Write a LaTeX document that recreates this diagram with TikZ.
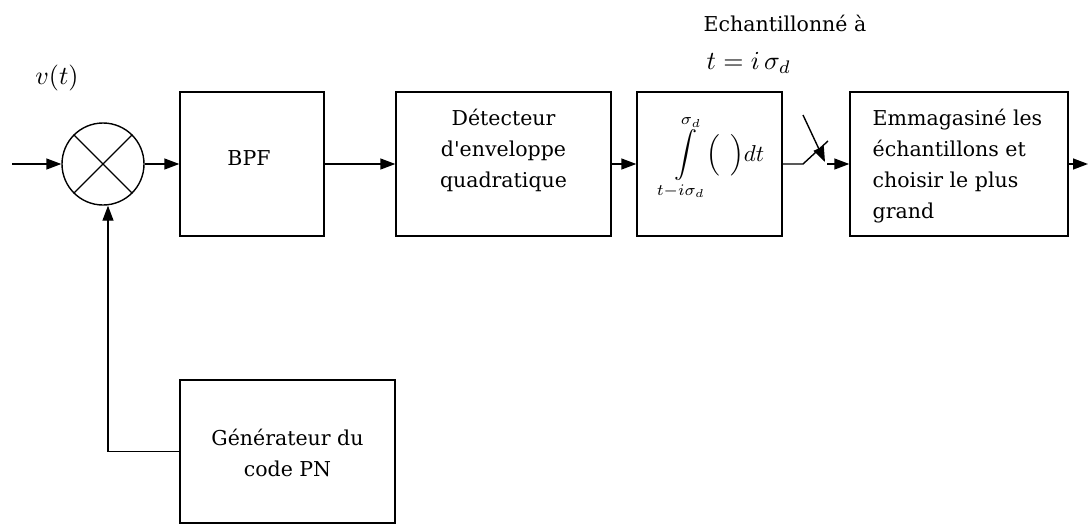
\documentclass[tikz,border=0pt]{standalone}
\usepackage{exscale}
\usepackage{amsmath}
\usepackage{graphicx}
\usepackage{fontspec}
\setmainfont{DejaVu Serif}[Ligatures=TeXOff]
\usetikzlibrary{arrows.meta,calc}

\begin{document}
\begin{tikzpicture}[x=1pt,y=-1pt,
  line width=1.4pt,
  >={Triangle[length=15pt,width=11pt]},
  every node/.style={font=\fontsize{20.5}{31}\selectfont, inner sep=0pt},
  blk/.style={draw, rectangle, minimum height=144pt},
  txt/.style={align=center},
  mth/.style={font=\fontsize{10}{12}\selectfont},
  wire/.style={->}
]
\useasboundingbox (0,0) rectangle (1090,525);

% mixer
\node[draw, circle, minimum size=82pt] (mix) at (103,164) {};
\draw (mix.north west) -- (mix.south east);
\draw (mix.north east) -- (mix.south west);
\node[mth] (vt) at (57,78) {\scalebox{2.6}{$v(t)$}};

% processing chain
\node[blk, minimum width=144pt] (bpf) at (252,164) {};
\node[txt] (bpft) at (249,158) {BPF};

\node[blk, minimum width=215pt] (det) at (503.5,164) {};
\node[txt] (dett) at (503.5,150) {Détecteur\\d'enveloppe\\quadratique};

\node[blk, minimum width=145pt] (int) at (709.5,164) {};
\node[mth] (intm) at (713,158) {\scalebox{2.3}{$\displaystyle\int\limits_{t-i\sigma_d}^{\sigma_d}\!\Bigl(\;\,\Bigr)dt$}};

\node[blk, minimum width=218pt] (store) at (959,164) {};
\node[align=left, anchor=west] (storet) at (872,166)
  {Emmagasiné les\\échantillons et\\choisir le plus\\grand};

\node[blk, minimum width=215pt, minimum height=143pt] (pn) at (287.5,451.5) {};
\node[txt] (pnt) at (287.5,453) {Générateur du\\code PN};

% sampling labels
\node[anchor=west] (samp) at (703,23) {Echantillonné à};
\node[mth, anchor=west] (sampt) at (706,63) {\scalebox{2.6}{$t = i\,\sigma_d$}};

% connectors
\coordinate (in) at (12,164);
\coordinate (sw1) at (803,164);
\coordinate (sw2) at (828,141);
\coordinate (sa) at (803,115);
\coordinate (st) at (825,162);
\coordinate (so) at (827,164);
\coordinate (out) at (1088,164);

\draw[wire] (in) -- (mix.west);
\draw[wire] (mix.east) -- (bpf.west);
\draw[wire] (bpf.east) -- (det.west);
\draw[wire] (det.east) -- (int.west);
\draw (int.east |- sw1) -- (sw1) -- (sw2);
\draw[wire] (sa) -- (st);
\draw[wire] (so) -- (so -| store.west);
\draw[wire] (store.east |- out) -- (out);
\draw[wire] (pn.west) -| ($(mix.south)+(5,0)$);
\end{tikzpicture}
\end{document}
